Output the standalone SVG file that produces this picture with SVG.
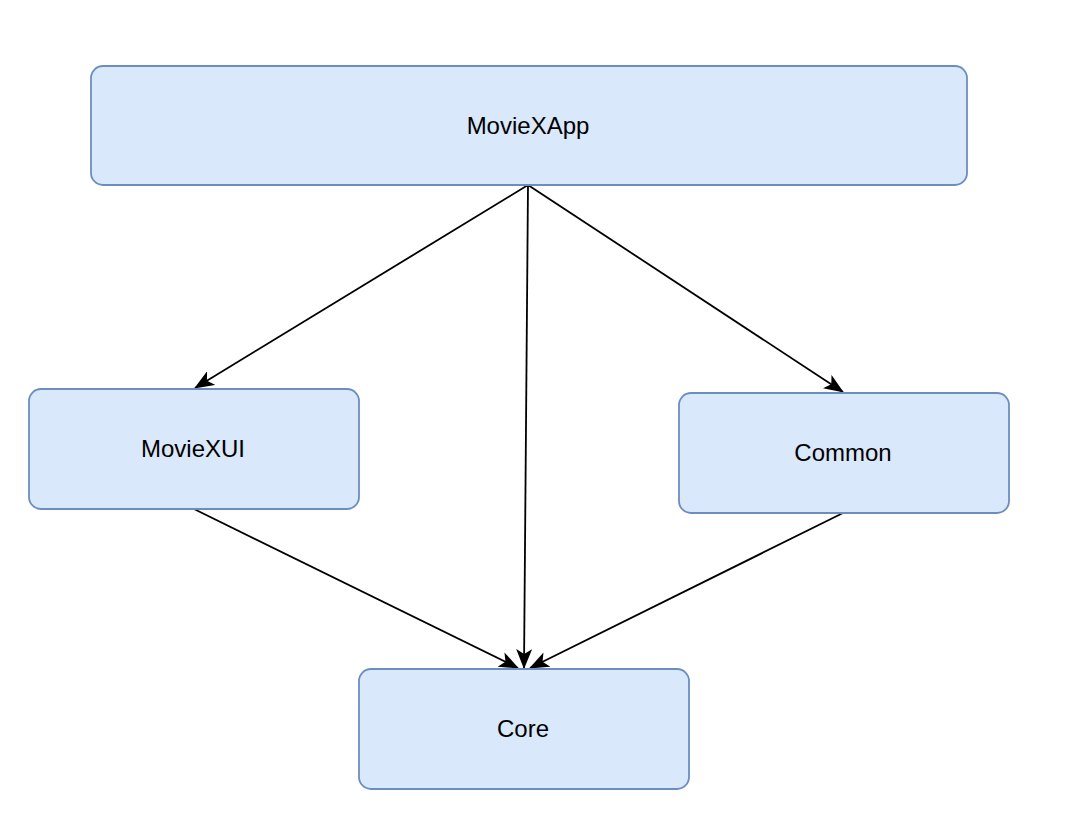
<svg xmlns="http://www.w3.org/2000/svg" width="1068" height="818" viewBox="0 0 1068 818">
<style>
.box{fill:#dae8fc;stroke:#6c8ebf;stroke-width:1.8}
.lbl{font-family:"Liberation Sans",Arial,sans-serif;font-size:24px;fill:#000;text-anchor:middle}
.edge{stroke:#000;stroke-width:1.8;fill:none}
</style>
<defs>
<marker id="arr" viewBox="0 0 20 16" refX="19" refY="8" markerWidth="20" markerHeight="16" markerUnits="userSpaceOnUse" orient="auto">
<path d="M0,0 L20,8 L0,16 L5,8 Z" fill="#000"/>
</marker>
</defs>
<rect width="1068" height="818" fill="#fff"/>
<g id="connectors">
<line class="edge" x1="528" y1="185" x2="195" y2="388" marker-end="url(#arr)"/>
<line class="edge" x1="528" y1="185" x2="524" y2="668" marker-end="url(#arr)"/>
<line class="edge" x1="528" y1="185" x2="843" y2="392" marker-end="url(#arr)"/>
<line class="edge" x1="194" y1="509" x2="518" y2="668" marker-end="url(#arr)"/>
<line class="edge" x1="843" y1="513" x2="530" y2="668" marker-end="url(#arr)"/>
</g>
<g id="MovieXApp">
<rect class="box" x="91" y="66" width="876" height="119" rx="12"/>
<text class="lbl" x="528" y="134">MovieXApp</text>
</g>
<g id="MovieXUI">
<rect class="box" x="29" y="389" width="330" height="120" rx="12"/>
<text class="lbl" x="193" y="457">MovieXUI</text>
</g>
<g id="Common">
<rect class="box" x="679" y="393" width="330" height="120" rx="12"/>
<text class="lbl" x="843" y="461">Common</text>
</g>
<g id="Core">
<rect class="box" x="359" y="669" width="330" height="120" rx="12"/>
<text class="lbl" x="523" y="737">Core</text>
</g>
</svg>
